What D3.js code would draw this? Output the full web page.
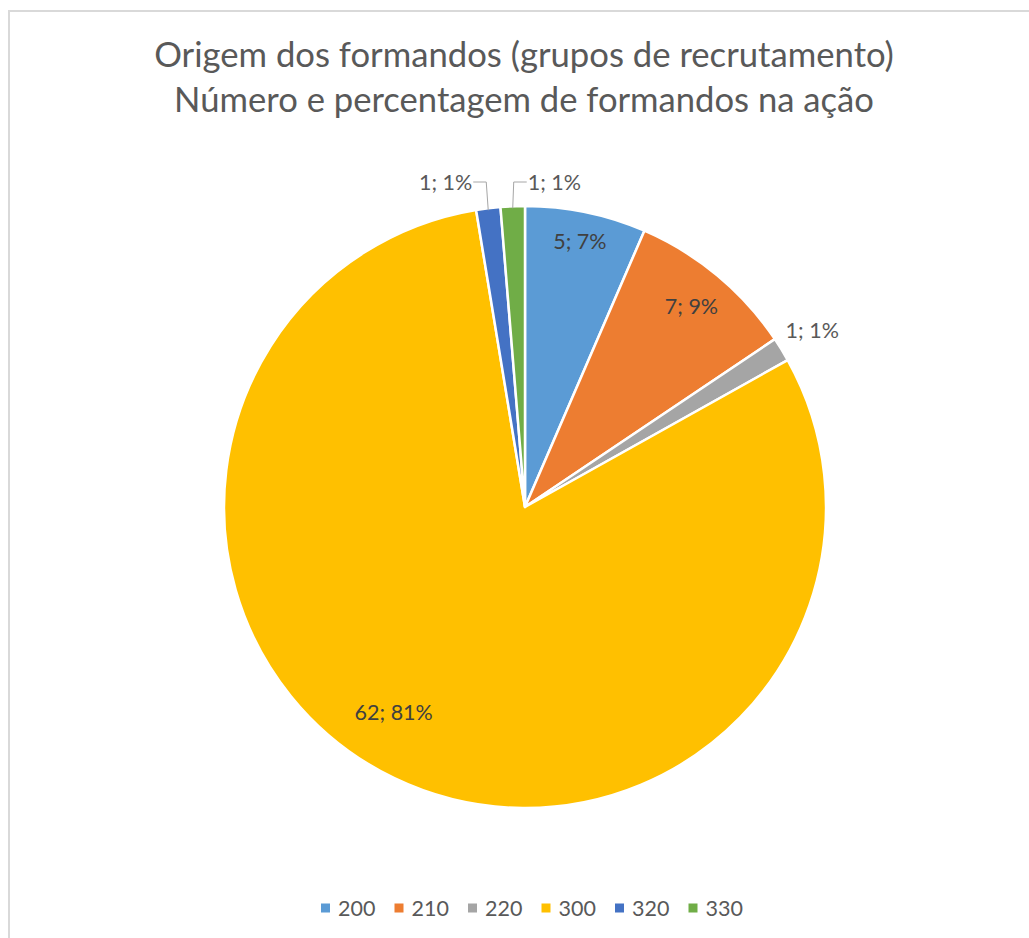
<!DOCTYPE html>
<html>
<head>
<meta charset="utf-8">
<script src="https://cdn.jsdelivr.net/npm/d3@7"></script>
<style>
  html, body { margin: 0; padding: 0; background: #fff; }
  svg { display: block; font-family: Lato, "Open Sans", sans-serif; }
</style>
</head>
<body>
<div id="chart"></div>
<script>
// Data
const categories = ["200", "210", "220", "300", "320", "330"];
const counts = [5, 7, 1, 62, 1, 1];
const colors = ["#5B9BD5", "#ED7D31", "#A5A5A5", "#FFC000", "#4472C4", "#70AD47"];
const titleLines = [
  "Origem dos formandos (grupos de recrutamento)",
  "Número e percentagem de formandos na ação"
];

const width = 1029;
const height = 938;
const cx = 525, cy = 507, radius = 301;

const svg = d3.select('#chart')
  .append('svg')
  .attr('width', width)
  .attr('height', height);

// chart frame (only top and left edges are visible in the picture)
svg.append('rect')
  .attr('x', 9)
  .attr('y', 11)
  .attr('width', 1200)
  .attr('height', 1200)
  .attr('fill', 'none')
  .attr('stroke', '#d9d9d9')
  .attr('stroke-width', 2);

// Title
const titleWidths = [740, 700];
const titleBaselines = [67, 112];
titleLines.forEach((line, i) => {
  const t = svg.append('text')
    .attr('x', 524)
    .attr('y', titleBaselines[i])
    .attr('text-anchor', 'middle')
    .attr('fill', '#595959')
    .style('font-size', '32px')
    .text(line);
  // fit the width of the Calibri original
  const w = t.node().getComputedTextLength();
  t.style('font-size', (32 * titleWidths[i] / w).toFixed(2) + 'px');
});

const total = d3.sum(counts);
const slices = categories.map((c, i) => ({ name: c, value: counts[i], color: colors[i] }));

// percentages rounded so they add up to 100 (largest remainder), like Excel does
const raw = counts.map(v => v / total * 100);
const pct = raw.map(Math.floor);
let missing = 100 - d3.sum(pct);
d3.range(raw.length)
  .sort((a, b) => (raw[b] - pct[b]) - (raw[a] - pct[a]))
  .forEach(i => { if (missing > 0) { pct[i] += 1; missing -= 1; } });
slices.forEach((s, i) => { s.pct = pct[i]; });

const pie = d3.pie()
  .value(d => d.value)
  .sort(null);

const arcs = pie(slices);

const arc = d3.arc()
  .innerRadius(0)
  .outerRadius(radius);

const g = svg.append('g')
  .attr('transform', `translate(${cx},${cy})`);

g.selectAll('path')
  .data(arcs)
  .join('path')
  .attr('d', arc)
  .attr('fill', d => d.data.color)
  .attr('stroke', '#fff')
  .attr('stroke-width', 2.5)
  .attr('stroke-linejoin', 'round');

// Labels
const labelText = d => `${d.data.value}; ${d.data.pct}%`;
const midAngle = d => (d.startAngle + d.endAngle) / 2;
const polar = (a, r) => [r * Math.sin(a), -r * Math.cos(a)];

// how each label is placed: inside at a radius, outside at a radius, or pulled up with a leader line
const placement = [
  { mode: 'inside', r: 0.9 },
  { mode: 'inside', r: 0.865 },
  { mode: 'outside', r: 1.12 },
  { mode: 'inside', r: 0.81, shift: 0.12 },
  { mode: 'leader', dir: -1 },
  { mode: 'leader', dir: 1 }
];

const labelSize = '21.5px';
const labels = g.append('g');

arcs.forEach((d, i) => {
  const p = placement[i];
  const a = midAngle(d) + (p.shift || 0);
  if (p.mode === 'inside' || p.mode === 'outside') {
    const [x, y] = polar(a, radius * p.r);
    labels.append('text')
      .attr('x', x)
      .attr('y', y)
      .attr('dy', '0.35em')
      .attr('text-anchor', 'middle')
      .attr('fill', p.mode === 'inside' ? '#404040' : '#595959')
      .style('font-size', labelSize)
      .text(labelText(d));
  } else {
    const [x0, y0] = polar(a, radius);
    const yTop = -radius - 24;
    const x1 = x0 + (p.dir < 0 ? -2 : 1);
    const x2 = x1 + p.dir * 13;
    labels.append('polyline')
      .attr('points', [[x0, y0 + 2], [x1, yTop], [x2, yTop]].map(q => q.join(',')).join(' '))
      .attr('fill', 'none')
      .attr('stroke', '#a6a6a6')
      .attr('stroke-width', 1);
    labels.append('text')
      .attr('x', x2 + p.dir * 1)
      .attr('y', yTop)
      .attr('dy', '0.35em')
      .attr('text-anchor', p.dir < 0 ? 'end' : 'start')
      .attr('fill', '#595959')
      .style('font-size', labelSize)
      .text(labelText(d));
  }
});

// Legend
const itemStep = 73.5;
const legendY = 908;

const legend = svg.append('g')
  .attr('transform', `translate(321,${legendY})`);

const item = legend.selectAll('g')
  .data(slices)
  .join('g')
  .attr('transform', (d, i) => `translate(${i * itemStep},0)`);

item.append('rect')
  .attr('x', 0)
  .attr('y', -4.5)
  .attr('width', 9)
  .attr('height', 9)
  .attr('fill', d => d.color);

item.append('text')
  .attr('x', 17)
  .attr('y', 0)
  .attr('dy', '0.36em')
  .attr('fill', '#595959')
  .style('font-size', '21.5px')
  .text(d => d.name);
</script>
</body>
</html>
